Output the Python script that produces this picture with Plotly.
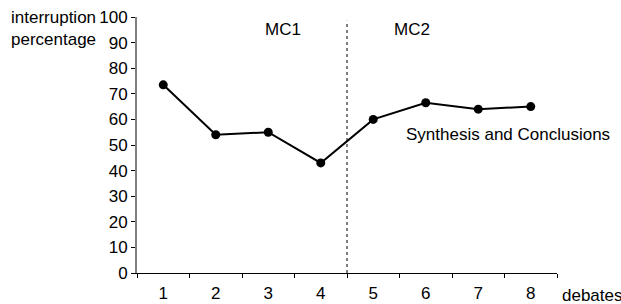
import plotly.graph_objects as go

debates = ["1", "2", "3", "4", "5", "6", "7", "8"]
interruption_pct = [73.5, 54, 55, 43, 60, 66.5, 64, 65]
y_ticks = [0, 10, 20, 30, 40, 50, 60, 70, 80, 90, 100]

font = dict(family="Liberation Sans, Arial, sans-serif", size=17, color="black")

fig = go.Figure()
fig.add_trace(go.Scatter(
    x=debates, y=interruption_pct, mode="lines+markers",
    line=dict(color="black", width=2),
    marker=dict(color="black", size=9),
    showlegend=False, cliponaxis=False,
))

fig.add_shape(type="line", xref="x", yref="y", x0=3.5, x1=3.5, y0=0, y1=98.5,
              line=dict(color="black", width=1, dash="3px,3px"))

fig.add_annotation(x=-0.2976, y=1, xref="paper", yref="paper", xanchor="left", yanchor="top",
                   xshift=-3, yshift=11, text="interruption<br>percentage", showarrow=False, align="left",
                   font=font)
fig.add_annotation(x=2.29, y=95.2, xref="x", yref="y", text="MC1", showarrow=False, font=font)
fig.add_annotation(x=4.74, y=95.2, xref="x", yref="y", text="MC2", showarrow=False, font=font)
fig.add_annotation(x=4.586, y=54.1, xref="x", yref="y", xanchor="left", text="Synthesis and Conclusions",
                   showarrow=False, font=font)
fig.add_annotation(x=1, y=0, xref="paper", yref="paper", xanchor="left", yanchor="middle",
                   xshift=3, yshift=-22, text="debates", showarrow=False, font=font)

fig.update_layout(
    width=621, height=304,
    margin=dict(l=137, r=64, t=17, b=31, autoexpand=False),
    paper_bgcolor="white", plot_bgcolor="white",
    font=font,
    xaxis=dict(type="category", tickson="boundaries", ticks="outside", ticklen=4,
               tickcolor="black", showline=True, linecolor="black", linewidth=1,
               showgrid=False, zeroline=False, range=[-0.5, 7.5], automargin=False,
               ticklabelstandoff=5),
    yaxis=dict(range=[0, 100], tickvals=y_ticks, ticks="outside", ticklen=4,
               tickcolor="black", showline=True, linecolor="#808080", linewidth=2,
               showgrid=False, zeroline=False, automargin=False),
)

fig.write_html(
    "out.html",
    config={"displayModeBar": False},
    post_script="document.body.style.margin='0';document.documentElement.style.overflow='hidden';document.body.style.overflow='hidden';",
)
